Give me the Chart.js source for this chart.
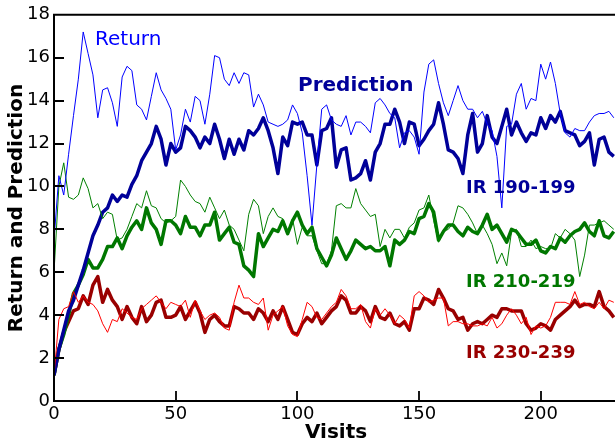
<!DOCTYPE html>
<html>
<head>
<meta charset="utf-8">
<script src="https://cdn.jsdelivr.net/npm/chart.js@4/dist/chart.umd.min.js"></script>
<style>
  html, body { margin: 0; padding: 0; background: #fff; }
  canvas { display: block; }
</style>
</head>
<body>
<canvas id="chart" width="615" height="442"></canvas>
<script>
// sampled every 2 visits
const visits = [
  0,2,4,6,8,10,12,14,16,18,20,22,24,26,28,30,32,34,36,38,40,42,44,46,
  48,50,52,54,56,58,60,62,64,66,68,70,72,74,76,78,80,82,84,86,88,90,92,94,
  96,98,100,102,104,106,108,110,112,114,116,118,120,122,124,126,128,130,132,134,136,138,140,
  142,144,146,148,150,152,154,156,158,160,162,164,166,168,170,172,174,176,178,180,182,184,186,188,
  190,192,194,196,198,200,202,204,206,208,210,212,214,216,218,220,222,224,226,228,230
];

// IR 190-199
const ret190 = [
  7.5,10.5,9.6,11.5,13.3,15.0,17.2,16.2,15.2,13.2,14.5,14.6,13.9,12.8,15.1,15.6,15.4,13.8,13.6,13.1,14.2,15.3,14.5,14.1,
  13.6,11.7,12.4,13.6,13.0,14.2,14.0,12.9,14.3,16.1,16.0,15.0,14.7,15.3,14.8,15.3,15.2,13.7,14.3,13.8,13.0,12.9,12.8,12.9,
  13.1,13.8,13.4,12.5,10.5,8.2,11.0,13.6,13.8,13.1,12.9,12.8,13.3,12.4,13.0,13.0,12.8,12.5,13.9,14.1,13.8,13.4,13.2,
  11.8,12.5,12.6,12.3,11.5,14.4,15.7,15.9,14.8,13.9,13.3,14.0,14.7,14.0,13.6,13.6,13.2,13.5,12.9,12.6,11.4,9.0,12.8,12.9,
  14.3,14.8,13.6,14.1,14.0,15.7,15.0,15.8,14.8,13.4,12.5,12.3,12.7,12.6,12.6,13.0,13.3,13.4,13.4,13.5,13.2
];
const pred190 = [
  1.2,2.4,3.3,4.2,4.7,5.4,6.1,6.9,7.7,8.2,8.8,9.0,9.6,9.3,9.6,9.5,10.1,10.5,11.2,11.6,12.0,12.8,12.2,11.0,
  12.0,11.6,11.8,12.8,12.6,12.3,11.8,12.3,12.0,12.9,12.2,11.3,12.2,11.5,12.2,11.7,12.6,12.4,12.7,13.2,12.6,11.8,10.6,12.3,
  11.9,13.0,12.9,13.0,12.4,12.4,11.0,12.6,12.7,13.2,10.9,11.7,11.8,10.3,10.4,10.6,11.2,10.3,11.6,12.0,12.9,12.9,13.6,
  13.0,12.0,13.0,12.9,11.9,12.2,12.6,12.9,13.9,12.9,11.7,11.6,11.3,10.6,12.4,13.4,11.6,12.0,13.3,12.3,12.0,12.8,13.6,12.4,
  13.0,12.5,12.1,12.5,12.4,13.2,12.7,13.3,13.0,13.5,12.6,12.5,12.4,11.9,12.1,12.5,11.0,12.2,12.3,11.6,11.4
];

// IR 210-219
const ret210 = [
  6.0,10.0,11.1,9.5,9.4,9.6,10.4,9.9,9.0,9.2,8.5,8.8,8.7,7.5,7.6,8.0,8.6,9.2,9.0,9.8,9.1,9.0,8.5,8.3,
  8.4,8.6,10.3,10.0,9.6,9.3,9.2,8.8,9.5,9.0,8.5,8.9,8.2,8.0,7.5,7.0,8.7,9.4,9.1,7.8,8.6,9.0,8.6,8.5,
  7.9,8.5,7.3,8.1,7.7,7.7,7.0,6.4,6.4,7.0,9.1,9.2,9.0,9.0,9.9,9.2,8.9,8.6,8.7,7.2,8.0,7.6,8.0,
  8.0,7.6,8.1,8.3,8.9,9.0,9.6,8.4,7.4,7.9,8.0,8.3,9.1,9.0,8.7,8.3,7.8,8.2,7.8,7.3,6.4,6.9,6.3,7.9,
  8.0,7.2,7.2,7.5,7.1,7.2,7.1,7.1,7.8,7.6,8.0,7.8,7.5,5.8,6.8,8.2,8.2,8.3,8.4,8.2,8.0
];
const pred210 = [
  1.2,2.4,3.1,4.0,5.0,5.4,5.9,6.6,6.2,6.2,6.6,7.2,7.2,7.6,7.1,7.7,8.1,8.4,8.0,9.0,8.3,8.0,7.3,8.4,
  8.4,8.2,7.8,8.6,8.1,8.1,7.7,8.2,8.2,8.8,7.5,7.8,8.1,7.4,7.3,6.3,6.1,5.8,7.8,7.2,7.6,8.0,7.9,8.4,
  7.8,8.4,8.8,8.2,7.8,8.1,7.1,6.7,6.3,6.8,7.6,7.1,6.6,7.0,7.5,7.3,7.1,7.2,7.0,7.0,7.2,6.3,7.5,
  7.3,7.5,7.9,7.8,8.5,8.6,9.2,8.8,7.5,7.9,8.2,8.2,7.9,7.7,8.1,7.9,7.8,8.2,8.7,8.0,8.2,7.8,7.4,8.0,
  7.9,7.6,7.3,7.3,7.5,7.0,6.9,7.2,7.1,7.6,7.4,7.7,7.9,8.0,8.3,7.9,7.7,8.4,7.7,7.6,7.9
];

// IR 230-239
const ret230 = [
  1.2,3.8,4.3,4.4,5.1,4.6,4.9,4.6,4.5,4.2,3.6,3.2,3.8,3.7,4.3,4.1,3.9,3.8,4.3,4.5,4.7,4.9,4.6,4.3,
  4.6,4.5,4.4,4.7,3.9,4.7,4.2,3.8,4.0,4.1,3.9,3.4,3.3,4.6,5.4,4.8,4.8,4.6,4.5,4.8,3.3,4.0,4.2,4.4,
  3.5,3.1,3.0,3.8,4.6,4.4,3.9,3.8,4.1,4.4,4.6,5.2,4.9,4.3,4.3,4.5,3.7,3.4,4.3,4.0,4.3,4.0,3.6,
  4.0,3.8,3.4,4.9,5.1,4.9,4.6,4.7,4.8,4.8,3.5,3.7,3.7,3.6,3.6,3.5,3.5,3.6,3.5,3.9,3.4,3.6,4.0,4.3,
  4.0,3.6,3.9,3.1,3.5,3.4,3.5,3.9,4.6,4.6,4.6,4.5,5.1,4.5,4.6,4.4,4.3,4.6,4.3,4.7,4.6
];
const pred230 = [
  1.2,2.4,3.2,3.7,4.2,4.3,4.9,4.5,5.4,5.8,4.6,5.2,4.7,4.4,3.8,4.4,3.9,3.6,4.4,3.7,4.0,4.6,4.7,3.9,
  3.9,4.0,4.4,3.8,4.2,4.6,4.1,3.2,3.8,4.0,3.7,3.5,3.5,4.4,4.3,4.1,4.1,3.8,4.3,4.1,3.7,4.2,3.8,4.4,
  3.8,3.2,3.1,3.6,3.9,3.7,4.1,3.6,3.9,4.2,4.4,4.9,4.7,4.1,4.1,4.4,4.2,3.7,4.4,3.9,3.8,4.1,3.6,
  3.5,3.7,3.3,4.3,4.3,4.8,4.7,4.5,5.2,4.8,4.3,4.2,3.8,3.9,3.3,3.6,3.7,3.6,3.8,4.0,3.9,4.3,4.3,4.2,
  4.2,4.2,3.6,3.3,3.4,3.6,3.5,3.3,3.8,4.0,4.2,4.4,4.7,4.4,4.5,4.5,4.4,5.1,4.4,4.2,3.9
];

const xTicks = [50, 100, 150, 200];
const yTicks = [2, 4, 6, 8, 10, 12, 14, 16];

const FONT = "DejaVu Sans";

function pts(arr) {
  return visits.map((v, i) => ({ x: v, y: arr[i] }));
}

function line(arr, color, width) {
  return {
    data: pts(arr),
    borderColor: color,
    borderWidth: width,
    pointRadius: 0,
    tension: 0,
    fill: false,
    borderJoinStyle: "round"
  };
}

// frame, inward ticks and text labels
const decor = {
  id: "decor",
  afterDatasetsDraw(chart) {
    let ctx = chart.ctx;
    let a = chart.chartArea;
    let xs = chart.scales.x, ys = chart.scales.y;

    ctx.save();
    ctx.strokeStyle = "#000";
    ctx.lineWidth = 2;
    ctx.beginPath();
    ctx.moveTo(a.left, a.top);
    ctx.lineTo(a.right, a.top);
    ctx.moveTo(a.left, a.top - 1);
    ctx.lineTo(a.left, a.bottom);
    ctx.lineTo(a.right, a.bottom);
    ctx.stroke();

    ctx.lineWidth = 1.8;
    ctx.beginPath();
    yTicks.forEach(v => {
      let y = Math.round(ys.getPixelForValue(v));
      ctx.moveTo(a.left, y);
      ctx.lineTo(a.left + 10, y);
    });
    xTicks.forEach(v => {
      let x = Math.round(xs.getPixelForValue(v));
      ctx.moveTo(x, a.bottom);
      ctx.lineTo(x, a.bottom - 10);
    });
    ctx.stroke();

    ctx.textBaseline = "middle";
    ctx.textAlign = "left";
    ctx.fillStyle = "#0000ff";
    ctx.font = "20px " + FONT;
    ctx.fillText("Return", 95, 40);

    ctx.fillStyle = "#000099";
    ctx.font = "bold 20px " + FONT;
    ctx.fillText("Prediction", 298, 86);

    ctx.font = "bold 18px " + FONT;
    ctx.fillText("IR 190-199", 466, 188);
    ctx.fillStyle = "#007700";
    ctx.fillText("IR 210-219", 466, 282);
    ctx.fillStyle = "#990000";
    ctx.fillText("IR 230-239", 466, 353);

    ctx.fillStyle = "#000";
    ctx.font = "bold 20px " + FONT;
    ctx.textAlign = "center";
    ctx.fillText("Visits", 336, 433);

    ctx.translate(17, 208);
    ctx.rotate(-Math.PI / 2);
    ctx.fillText("Return and Prediction", 0, 0);
    ctx.restore();
  }
};

new Chart(document.getElementById("chart"), {
  type: "line",
  data: {
    datasets: [
      line(ret190, "#0000ff", 1),
      line(ret210, "#008000", 1),
      line(ret230, "#ff0000", 1),
      line(pred190, "#000099", 3.5),
      line(pred210, "#007700", 3.5),
      line(pred230, "#990000", 3.5)
    ]
  },
  options: {
    responsive: false,
    animation: false,
    layout: { padding: { top: 14, right: 0, left: 0, bottom: 0 } },
    plugins: { legend: { display: false }, tooltip: { enabled: false } },
    scales: {
      x: {
        type: "linear",
        min: 0,
        max: 230.5,
        grid: { display: false, drawTicks: false },
        border: { display: false },
        ticks: {
          stepSize: 50,
          includeBounds: false,
          maxRotation: 0,
          padding: 3,
          color: "#000",
          font: { family: FONT, size: 18 }
        },
        afterFit: s => { s.height = 41; }
      },
      y: {
        min: 0,
        max: 18,
        grid: { display: false, drawTicks: false },
        border: { display: false },
        ticks: {
          stepSize: 2,
          padding: 4,
          color: "#000",
          font: { family: FONT, size: 18 }
        },
        afterFit: s => { s.width = 54; }
      }
    }
  },
  plugins: [decor]
});
</script>
</body>
</html>
